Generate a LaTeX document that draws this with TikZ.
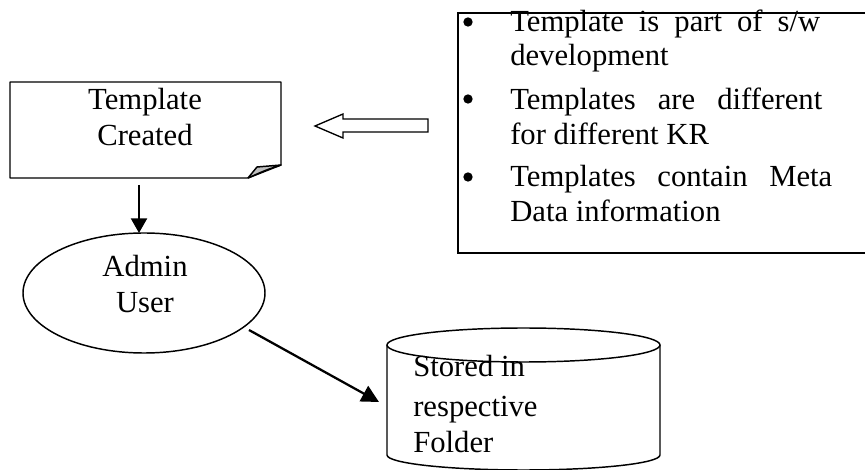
\documentclass[tikz,border=0pt]{standalone}
\usepackage{fontspec}
\setmainfont{Liberation Serif}
\usetikzlibrary{arrows.meta,shapes.geometric}
\newlength\pxu
\setlength\pxu{0.75pt}
\tikzset{
  outline/.style={draw=black,line width=1.1pt},
  txt/.style={anchor=base,inner sep=0pt,font=\fontsize{23}{26}\selectfont},
  txtl/.style={anchor=base west,inner sep=0pt,font=\fontsize{23}{26}\selectfont},
  flow/.style={draw=black,line width=1.7pt,-{Triangle[length=11pt,width=12pt]}},
  bulletdot/.style={circle,fill=black,inner sep=0pt,minimum size=7pt}
}
\begin{document}
\begin{tikzpicture}[x=0.75pt,y=-0.75pt]
\useasboundingbox (0,0) rectangle (865,470);

% "Template Created" box with a curled corner
\draw[outline,line join=round] (10,82) -- (281,82) -- (281,165) -- (248,178) -- (10,178) -- cycle;
\filldraw[fill=black!25,draw=black,line width=1.1pt,line join=round]
  (248,178) .. controls (252,172) .. (257,167) -- (281,165) .. controls (266,170) .. (248,178);
\node[txt] (tc1) at (145,110) {Template};
\node[txt] (tc2) at (145,146) {Created};

% hollow block arrow pointing at the box
\draw[outline,line width=1pt,line join=miter] (315,126) -- (343,114) -- (343,119) -- (428,119)
  -- (428,132) -- (343,132) -- (343,138) -- cycle;

% notes box, open on its right side
\draw[outline] (875,13) -- (458,13) -- (458,253) -- (875,253);
\node[bulletdot] (b1) at (468,22) {};
\node[bulletdot] (b2) at (468,99) {};
\node[bulletdot] (b3) at (468,177) {};
\node[txtl] (n1) at (510,32) {\makebox[310\pxu][s]{Template is part of s/w}};
\node[txtl] (n2) at (510,66) {development};
\node[txtl] (n3) at (510,110) {\makebox[312\pxu][s]{Templates are different}};
\node[txtl] (n4) at (510,145) {for different KR};
\node[txtl] (n5) at (510,187) {\makebox[322\pxu][s]{Templates contain Meta}};
\node[txtl] (n6) at (510,222) {Data information};

% admin user
\node[ellipse,outline,minimum width=181.5pt,minimum height=90pt,inner sep=0pt] (admin) at (144,293) {};
\node[txt] (au1) at (145,277) {Admin};
\node[txt] (au2) at (145,313) {User};

% storage cylinder
\draw[outline] (387,345) -- (387,455) arc[start angle=180,end angle=0,x radius=136.5,y radius=15] -- (660,345);
\draw[outline] (523.5,345) ellipse[x radius=136.5,y radius=17];
\node[txtl] (st1) at (413,377) {Stored in};
\node[txtl] (st2) at (413,417) {respective};
\node[txtl] (st3) at (413,453) {Folder};

% connectors
\coordinate (c1s) at (139,185);
\coordinate (c1e) at (139,233);
\coordinate (c2s) at (249,330);
\coordinate (c2e) at (379,402);
\draw[flow] (c1s) -- (c1e);
\draw[flow,-{Triangle[length=13pt,width=13pt]}] (c2s) -- (c2e);
\end{tikzpicture}
\end{document}
